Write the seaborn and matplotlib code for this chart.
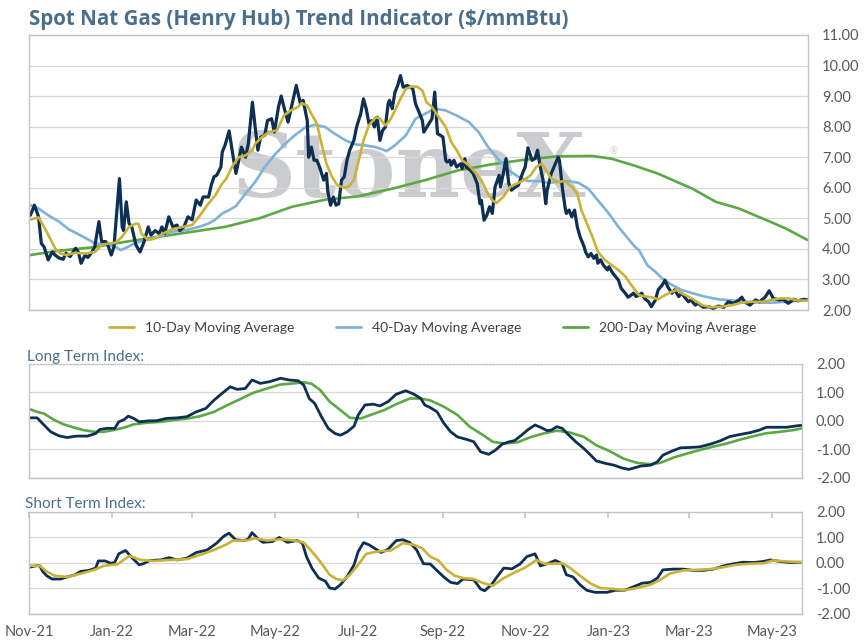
import pandas as pd
import seaborn as sns
import matplotlib.pyplot as plt
import matplotlib.dates as mdates
from matplotlib.lines import Line2D

# dates are given as days after start
start = pd.Timestamp("2021-11-01")
end_day = 568.3

# spot Henry Hub ($/mmBtu)
spot_day = [1, 4, 7, 9, 11, 14, 17, 19, 22, 25, 27, 30, 34, 36, 38, 41, 43, 46, 48, 51,
            53, 56, 58, 60, 62, 66, 68, 69, 71, 73, 75, 78, 81, 84, 87, 89, 92, 95, 97, 99,
            102, 105, 108, 110, 113, 116, 119, 122, 125, 127, 131, 133, 135, 137, 140, 141, 143, 146, 149, 151,
            153, 155, 158, 160, 163, 165, 167, 169, 172, 174, 177, 179, 182, 184, 186, 189, 192, 195, 198, 200,
            203, 204, 206, 208, 210, 212, 215, 217, 218, 220, 222, 224, 226, 228, 230, 232, 234, 237, 239, 242,
            244, 246, 248, 250, 252, 254, 256, 258, 260, 262, 263, 265, 267, 269, 271, 273, 276, 278, 280, 282,
            284, 287, 288, 291, 294, 296, 298, 300, 302, 304, 305, 307, 308, 310, 312, 315, 316, 318, 319, 322,
            324, 327, 329, 330, 332, 334, 336, 338, 340, 343, 344, 346, 348, 350, 352, 355, 357, 360, 362, 364,
            367, 369, 371, 373, 375, 377, 378, 381, 384, 386, 387, 389, 391, 392, 394, 396, 398, 400, 402, 405,
            406, 408, 410, 412, 414, 415, 417, 419, 422, 423, 426, 428, 430, 432, 435, 437, 439, 441, 443, 447,
            449, 452, 454, 457, 459, 462, 464, 466, 469, 471, 474, 476, 479, 481, 483, 486, 488, 492, 496, 499,
            503, 507, 510, 514, 518, 520, 522, 526, 530, 533, 537, 540, 543, 547, 550, 554, 558, 561, 565, 568]
spot_px = [5.10, 5.43, 5.05, 4.18, 4.07, 3.64, 3.90, 3.80, 3.70, 3.66, 3.86, 3.75, 4.02, 3.90, 3.53, 3.80, 3.72, 3.90, 4.07, 4.89,
           4.24, 4.24, 4.07, 3.80, 4.07, 6.30, 4.72, 4.60, 5.54, 4.83, 4.72, 4.13, 3.90, 4.24, 4.72, 4.45, 4.60, 4.50, 4.72, 4.50,
           5.05, 4.72, 4.78, 4.60, 4.72, 5.05, 4.95, 5.60, 5.43, 5.70, 5.70, 6.09, 6.36, 6.41, 6.68, 7.17, 7.39, 7.86, 7.00, 6.47,
           6.90, 7.33, 7.00, 7.44, 8.80, 7.99, 7.23, 7.66, 7.72, 8.20, 8.26, 7.82, 8.64, 9.00, 8.64, 8.15, 8.75, 9.35, 8.75, 8.86,
           8.20, 7.00, 7.33, 6.90, 6.90, 6.68, 6.25, 6.47, 5.87, 5.43, 5.70, 5.43, 5.48, 6.25, 6.36, 6.90, 7.23, 7.55, 7.99, 8.42,
           8.91, 8.59, 8.10, 8.20, 7.99, 8.31, 7.55, 7.88, 7.99, 8.75, 8.86, 8.59, 9.13, 9.35, 9.67, 9.29, 9.35, 9.29, 9.24, 8.75,
           8.53, 8.20, 7.82, 8.04, 8.26, 9.13, 7.77, 7.72, 7.66, 6.90, 6.84, 6.90, 6.74, 6.90, 6.68, 6.79, 6.63, 6.95, 6.68, 6.57,
           6.47, 6.14, 5.48, 5.59, 4.94, 5.10, 5.38, 5.16, 6.03, 6.41, 6.03, 6.47, 6.95, 6.14, 5.92, 6.03, 6.08, 6.47, 6.68, 7.31,
           6.90, 6.95, 7.23, 6.68, 6.25, 5.48, 5.92, 6.47, 6.79, 7.00, 6.90, 6.03, 5.38, 5.16, 5.27, 5.05, 5.27, 4.72, 4.40, 4.07,
           3.90, 3.74, 3.85, 3.69, 3.80, 3.53, 3.64, 3.47, 3.31, 3.42, 3.20, 3.09, 2.98, 2.71, 2.55, 2.42, 2.48, 2.55, 2.44, 2.55,
           2.38, 2.27, 2.11, 2.33, 2.66, 2.82, 2.98, 2.76, 2.55, 2.66, 2.44, 2.55, 2.38, 2.27, 2.33, 2.16, 2.22, 2.09, 2.11, 2.05,
           2.13, 2.09, 2.27, 2.22, 2.33, 2.42, 2.27, 2.16, 2.33, 2.27, 2.42, 2.63, 2.38, 2.33, 2.35, 2.22, 2.35, 2.30, 2.35, 2.33]

# 10-day moving average
ma10_day = [1, 7, 11, 16, 19, 23, 27, 34, 41, 48, 53, 58, 63, 68, 73, 78, 80, 82, 87, 92,
            97, 104, 112, 119, 124, 130, 136, 141, 144, 148, 153, 158, 163, 165, 170, 175, 181, 186, 191, 196,
            199, 203, 206, 210, 214, 217, 221, 225, 230, 233, 237, 240, 244, 248, 253, 256, 260, 264, 267, 271,
            275, 279, 283, 287, 290, 294, 299, 304, 308, 312, 316, 321, 326, 330, 334, 338, 341, 346, 351, 356,
            361, 366, 370, 374, 378, 381, 386, 391, 396, 400, 403, 407, 411, 415, 420, 425, 430, 435, 440, 445,
            450, 454, 459, 464, 469, 473, 476, 481, 486, 491, 498, 505, 513, 520, 527, 535, 542, 548, 554, 561, 568]
ma10_px = [4.96, 5.03, 4.72, 4.29, 4.02, 3.85, 3.80, 3.87, 3.85, 3.90, 4.12, 4.18, 4.20, 4.40, 4.72, 4.83, 4.81, 4.50, 4.29, 4.34,
           4.48, 4.64, 4.72, 4.78, 5.05, 5.43, 5.76, 6.14, 6.30, 6.68, 7.00, 7.06, 7.23, 7.44, 7.66, 7.82, 7.88, 8.37, 8.53, 8.64,
           8.77, 8.69, 8.42, 8.10, 7.33, 6.79, 6.36, 6.08, 6.00, 6.03, 6.25, 6.79, 7.55, 8.04, 8.31, 8.26, 8.04, 8.26, 8.53, 8.91,
           9.24, 9.31, 9.31, 9.18, 8.80, 8.64, 8.31, 7.99, 7.50, 7.23, 6.90, 6.74, 6.47, 6.25, 5.87, 5.59, 5.50, 5.70, 6.03, 6.14,
           6.25, 6.41, 6.68, 6.79, 6.52, 6.30, 6.19, 6.22, 6.03, 5.81, 5.27, 4.83, 4.40, 3.91, 3.64, 3.47, 3.31, 3.10, 2.78, 2.49,
           2.44, 2.42, 2.35, 2.49, 2.60, 2.66, 2.55, 2.44, 2.31, 2.16, 2.09, 2.11, 2.16, 2.24, 2.27, 2.27, 2.33, 2.38, 2.38, 2.31, 2.31]

# 40-day moving average
ma40_day = [1, 7, 14, 22, 29, 36, 44, 48, 56, 63, 67, 70, 78, 85, 95, 104, 114, 124, 131, 136,
            141, 146, 151, 158, 165, 172, 180, 187, 194, 202, 209, 216, 223, 231, 238, 245, 253, 261, 267, 275,
            282, 289, 296, 304, 313, 321, 328, 335, 343, 350, 357, 364, 372, 379, 386, 394, 401, 408, 415, 423,
            430, 437, 442, 445, 451, 457, 462, 469, 476, 484, 493, 503, 513, 522, 532, 542, 552, 561, 568]
ma40_px = [5.43, 5.32, 5.10, 4.89, 4.64, 4.48, 4.29, 4.18, 4.15, 4.07, 3.96, 4.02, 4.20, 4.29, 4.40, 4.56, 4.61, 4.72, 4.83, 4.96,
           5.16, 5.27, 5.40, 5.81, 6.19, 6.68, 7.12, 7.44, 7.72, 7.99, 8.06, 7.99, 7.77, 7.55, 7.42, 7.39, 7.33, 7.20, 7.39, 7.72,
           8.26, 8.42, 8.59, 8.53, 8.34, 8.15, 7.82, 7.33, 6.90, 6.57, 6.36, 6.22, 6.22, 6.16, 6.19, 6.22, 6.16, 5.97, 5.59, 5.16,
           4.72, 4.34, 4.07, 3.96, 3.47, 3.25, 3.03, 2.82, 2.66, 2.55, 2.44, 2.35, 2.31, 2.27, 2.24, 2.24, 2.27, 2.31, 2.33]

# 200-day moving average
ma200_day = [1, 22, 46, 70, 95, 119, 143, 168, 192, 216, 240, 265, 289, 313, 338, 362, 386, 411, 425, 442,
             459, 484, 501, 518, 537, 552, 568]
ma200_px = [3.80, 3.94, 4.05, 4.23, 4.40, 4.56, 4.72, 5.00, 5.38, 5.61, 5.72, 5.97, 6.25, 6.57, 6.77, 6.92, 7.03, 7.04, 6.95, 6.72,
            6.46, 5.97, 5.54, 5.32, 4.96, 4.67, 4.29]

# long term index: spot vs 200-day
lt_day = [1, 6, 10, 16, 22, 28, 35, 43, 49, 52, 57, 63, 66, 70, 73, 77, 81, 87, 94, 101,
          109, 116, 123, 130, 136, 142, 148, 153, 159, 164, 170, 177, 185, 191, 198, 202, 206, 210, 215, 220,
          225, 229, 234, 239, 242, 247, 253, 258, 264, 270, 277, 283, 288, 291, 295, 300, 305, 310, 315, 322,
          327, 332, 338, 343, 348, 353, 357, 362, 367, 372, 376, 381, 384, 388, 392, 397, 402, 408, 413, 417,
          424, 430, 436, 441, 446, 450, 457, 462, 466, 473, 479, 486, 493, 501, 508, 515, 523, 530, 537, 542,
          550, 557, 563, 568]
lt_spot = [0.11, 0.11, -0.09, -0.38, -0.52, -0.58, -0.53, -0.53, -0.44, -0.30, -0.26, -0.26, -0.03, 0.05, 0.17, 0.09, -0.03, 0.00, 0.01, 0.09,
           0.11, 0.15, 0.32, 0.44, 0.73, 0.97, 1.20, 1.11, 1.14, 1.44, 1.32, 1.38, 1.50, 1.44, 1.41, 1.26, 0.79, 0.62, 0.15, -0.26,
           -0.44, -0.50, -0.38, -0.18, 0.21, 0.56, 0.59, 0.53, 0.68, 0.94, 1.06, 0.94, 0.79, 0.56, 0.47, 0.32, -0.08, -0.38, -0.56, -0.65,
           -0.73, -1.08, -1.17, -1.02, -0.81, -0.73, -0.69, -0.50, -0.30, -0.14, -0.22, -0.34, -0.32, -0.20, -0.26, -0.50, -0.73, -0.97, -1.20, -1.40,
           -1.49, -1.55, -1.65, -1.70, -1.63, -1.58, -1.55, -1.43, -1.20, -1.05, -0.94, -0.93, -0.91, -0.81, -0.70, -0.55, -0.47, -0.41, -0.32, -0.22,
           -0.22, -0.22, -0.18, -0.15]
lt_ma_day = [1, 6, 11, 18, 25, 33, 40, 48, 55, 62, 70, 77, 87, 97, 106, 116, 126, 136, 146, 155,
             165, 175, 185, 195, 202, 208, 214, 221, 229, 236, 244, 251, 261, 270, 280, 288, 295, 305, 315, 324,
             334, 341, 349, 359, 368, 378, 388, 398, 408, 417, 427, 437, 447, 457, 464, 474, 484, 493, 503, 513,
             523, 533, 542, 552, 562, 568]
lt_ma = [0.41, 0.32, 0.26, 0.05, -0.11, -0.23, -0.32, -0.38, -0.38, -0.32, -0.23, -0.12, -0.06, -0.03, 0.03, 0.08, 0.17, 0.32, 0.56, 0.76,
         0.99, 1.14, 1.28, 1.32, 1.36, 1.30, 1.09, 0.68, 0.38, 0.11, 0.09, 0.21, 0.38, 0.59, 0.79, 0.79, 0.72, 0.50, 0.21, -0.20,
         -0.50, -0.73, -0.79, -0.75, -0.58, -0.44, -0.34, -0.41, -0.56, -0.85, -1.06, -1.32, -1.47, -1.52, -1.47, -1.28, -1.14, -1.02, -0.90, -0.79,
         -0.65, -0.53, -0.43, -0.38, -0.32, -0.26]

# short term index: spot vs 10-day
st_day = [1, 5, 8, 10, 13, 17, 23, 28, 34, 38, 44, 49, 51, 56, 60, 63, 66, 71, 76, 81,
          84, 89, 97, 103, 109, 116, 123, 131, 138, 143, 147, 152, 158, 161, 164, 168, 172, 179, 184, 190,
          197, 201, 204, 208, 213, 218, 221, 225, 229, 234, 239, 242, 246, 250, 253, 259, 264, 270, 275, 280,
          285, 290, 295, 300, 305, 310, 315, 319, 327, 332, 335, 340, 344, 349, 355, 361, 366, 372, 376, 381,
          387, 392, 395, 400, 405, 410, 416, 425, 431, 438, 444, 451, 457, 462, 466, 474, 481, 488, 496, 503,
          511, 518, 525, 533, 540, 545, 552, 559, 568]
st_spot = [-0.16, -0.11, -0.11, -0.33, -0.50, -0.63, -0.63, -0.55, -0.46, -0.33, -0.29, -0.20, 0.08, 0.08, -0.01, 0.02, 0.36, 0.49, 0.19, -0.07,
           -0.03, 0.10, 0.12, 0.21, 0.12, 0.19, 0.41, 0.51, 0.78, 1.04, 1.17, 0.91, 0.88, 0.93, 1.19, 0.97, 0.81, 0.84, 1.00, 0.81,
           0.88, 0.78, 0.25, -0.20, -0.59, -0.72, -0.98, -1.02, -0.85, -0.53, -0.07, 0.45, 0.80, 0.71, 0.61, 0.41, 0.54, 0.88, 0.91, 0.80,
           0.51, -0.03, -0.04, -0.30, -0.55, -0.76, -0.81, -0.63, -0.66, -1.02, -1.09, -0.85, -0.55, -0.20, -0.23, -0.04, 0.25, 0.36, -0.11, -0.03,
           0.10, -0.03, -0.46, -0.55, -0.85, -1.07, -1.15, -1.15, -1.07, -1.07, -0.94, -0.79, -0.76, -0.59, -0.27, -0.24, -0.24, -0.29, -0.29, -0.24,
           -0.11, -0.03, 0.03, 0.02, 0.06, 0.12, 0.06, 0.02, 0.03]
st_ma_day = [1, 8, 13, 19, 28, 38, 48, 55, 65, 74, 82, 92, 104, 116, 126, 136, 146, 150, 160, 166,
             175, 185, 195, 202, 208, 214, 221, 226, 231, 236, 242, 248, 256, 266, 275, 283, 289, 295, 301, 307,
             313, 319, 327, 334, 341, 349, 356, 364, 368, 373, 379, 386, 392, 398, 405, 413, 420, 430, 438, 447,
             457, 464, 471, 481, 491, 501, 511, 520, 530, 540, 547, 557, 568]
st_ma = [-0.11, -0.11, -0.33, -0.50, -0.55, -0.42, -0.27, -0.11, -0.05, 0.28, 0.12, 0.08, 0.12, 0.15, 0.32, 0.51, 0.75, 0.88, 0.88, 0.97,
         0.88, 0.93, 0.88, 0.80, 0.45, 0.06, -0.46, -0.63, -0.68, -0.46, -0.07, 0.36, 0.45, 0.49, 0.78, 0.71, 0.58, 0.25, 0.10, -0.27,
         -0.50, -0.59, -0.63, -0.79, -0.89, -0.59, -0.40, -0.20, -0.07, 0.12, -0.03, -0.03, -0.01, -0.20, -0.50, -0.81, -0.98, -1.02, -1.07, -0.98,
         -0.85, -0.66, -0.42, -0.29, -0.27, -0.24, -0.16, -0.07, -0.03, -0.01, 0.10, 0.06, 0.03]

navy = "#0c2f53"
gold = "#c8b237"
blue = "#7eb2d9"
green = "#5ba845"
grid_c = "#d9d9d9"
spine_c = "#c4c4c4"
label_c = "#595959"
head_c = "#4b6f8b"

sns.set_theme(style="white")
plt.rcParams["font.family"] = ["Lato", "DejaVu Sans"]
plt.rcParams["axes.unicode_minus"] = False


def frame(days, vals):
    return pd.DataFrame({"date": start + pd.to_timedelta(days, unit="D"), "value": vals})


def style_axes(ax, lo, hi):
    ax.set_xlim(start, start + pd.Timedelta(days=end_day))
    ax.set_ylim(lo, hi)
    ax.set_yticks(range(lo, hi + 1))
    ax.yaxis.set_major_formatter(plt.FormatStrFormatter("%.2f"))
    ax.yaxis.tick_right()
    ax.tick_params(axis="y", length=0, pad=10, labelsize=10.5, labelcolor=label_c)
    ax.grid(axis="y", color=grid_c, lw=0.9)
    ax.set_axisbelow(True)
    for s in ax.spines.values():
        s.set_color(spine_c)
        s.set_linewidth(1.0)
    ax.set_xlabel("")
    ax.set_ylabel("")


fig = plt.figure(figsize=(8.65, 6.44), dpi=100)
ax1 = fig.add_axes([0.0335, 0.5186, 0.9006, 0.4271])
ax2 = fig.add_axes([0.0335, 0.2578, 0.8937, 0.1770])
ax3 = fig.add_axes([0.0335, 0.0466, 0.8937, 0.1584])

# price panel
ax1.text(0.259, 0.411, "StoneX", transform=ax1.transAxes, family="DejaVu Serif",
         fontweight="bold", fontsize=64, color="#cbcccf", ha="left", va="baseline", zorder=0)
ax1.text(0.745, 0.565, "\u00ae", transform=ax1.transAxes, fontsize=7, color="#cbcccf", zorder=0)
sns.lineplot(data=frame(ma200_day, ma200_px), x="date", y="value", ax=ax1, color=green, lw=1.9)
sns.lineplot(data=frame(ma40_day, ma40_px), x="date", y="value", ax=ax1, color=blue, lw=1.9)
sns.lineplot(data=frame(spot_day, spot_px), x="date", y="value", ax=ax1, color=navy, lw=2.3)
sns.lineplot(data=frame(ma10_day, ma10_px), x="date", y="value", ax=ax1, color=gold, lw=1.9)
style_axes(ax1, 2, 11)
ax1.tick_params(axis="x", bottom=False, labelbottom=False)

# long term index
sns.lineplot(data=frame(lt_ma_day, lt_ma), x="date", y="value", ax=ax2, color=green, lw=1.9)
sns.lineplot(data=frame(lt_day, lt_spot), x="date", y="value", ax=ax2, color=navy, lw=2.0)
style_axes(ax2, -2, 2)
ax2.tick_params(axis="x", bottom=False, labelbottom=False)
ax2.spines["top"].set_linestyle(":")

# short term index
sns.lineplot(data=frame(st_day, st_spot), x="date", y="value", ax=ax3, color=navy, lw=2.0)
sns.lineplot(data=frame(st_ma_day, st_ma), x="date", y="value", ax=ax3, color=gold, lw=1.9)
style_axes(ax3, -2, 2)
ax3.xaxis.set_major_locator(mdates.MonthLocator(bymonth=[1, 3, 5, 7, 9, 11]))
ax3.xaxis.set_major_formatter(mdates.DateFormatter("%b-%y"))
ax3.tick_params(axis="x", bottom=False, top=True, direction="in", length=4, color=spine_c,
                labelbottom=True, labeltop=False, labelsize=10.5, labelcolor=label_c, pad=8)

fig.text(0.0335, 0.961, "Spot Nat Gas (Henry Hub) Trend Indicator ($/mmBtu)", fontsize=14.8,
         family=["Open Sans", "DejaVu Sans"], fontweight="bold", color=head_c, ha="left", va="baseline")
fig.text(0.031, 0.440, "Long Term Index:", fontsize=11, color=head_c, ha="left", va="baseline")
fig.text(0.029, 0.2107, "Short Term Index:", fontsize=11, color=head_c, ha="left", va="baseline")

handles = [Line2D([], [], color=gold, lw=2), Line2D([], [], color=blue, lw=2), Line2D([], [], color=green, lw=2)]
labels = ["10-Day Moving Average", "40-Day Moving Average", "200-Day Moving Average"]
fig.legend(handles, labels, loc="center", bbox_to_anchor=(0.5, 0.4907), ncol=3, frameon=False,
           fontsize=10, handlelength=1.8, columnspacing=3.0, labelcolor="#404040")

fig.savefig("out.png", dpi=100)
